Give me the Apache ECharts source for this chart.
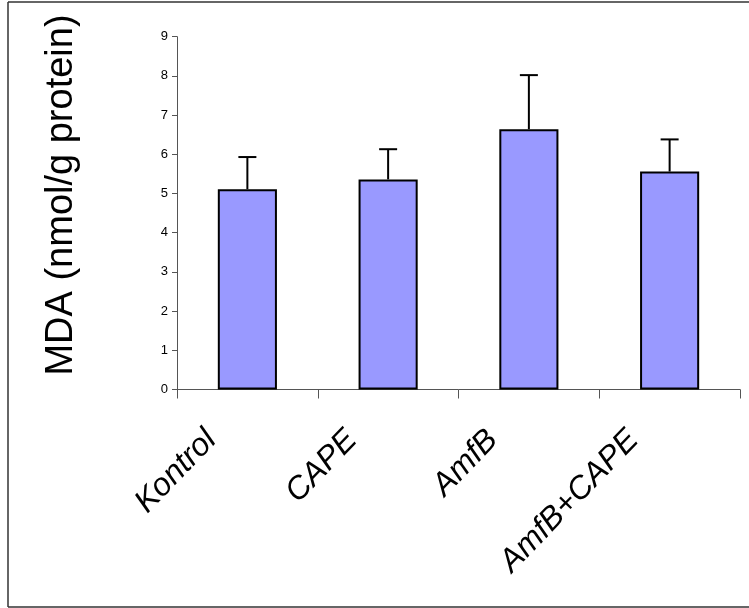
<!DOCTYPE html>
<html>
<head>
<meta charset="utf-8">
<script src="https://cdn.jsdelivr.net/npm/echarts@6/dist/echarts.min.js"></script>
<style>html,body{margin:0;padding:0;background:#fff}#c{width:749px;height:608px}</style>
</head>
<body>
<div id="c"></div>
<script>
const categories = ['Kontrol', 'CAPE', 'AmfB', 'AmfB+CAPE'];
const meanValues = [5.11, 5.36, 6.64, 5.56];
const errorValues = [0.82, 0.77, 1.38, 0.82];
const yTitle = 'MDA (nmol/g protein)';

const chart = echarts.init(document.getElementById('c'));
const errData = categories.map((c, i) => [i, meanValues[i], meanValues[i] + errorValues[i]]);

chart.setOption({
  animation: false,
  backgroundColor: '#fff',
  grid: { left: 177, right: 9, top: 36.7, bottom: 218.5, containLabel: false },
  xAxis: {
    type: 'category',
    data: categories,
    axisLine: { lineStyle: { color: '#555', width: 1 } },
    axisTick: { show: true, length: 9, lineStyle: { color: '#555' } },
    axisLabel: {
      rotate: 46, interval: 0, fontStyle: 'italic', fontSize: 32,
      fontFamily: 'Liberation Sans', color: '#000', margin: 8, padding: [0, 52, 0, 0]
    }
  },
  yAxis: {
    type: 'value', min: 0, max: 9, interval: 1,
    splitLine: { show: false },
    axisLine: { show: true, lineStyle: { color: '#555', width: 1 } },
    axisTick: { show: true, length: 5, lineStyle: { color: '#555' } },
    axisLabel: { fontSize: 13, fontFamily: 'Liberation Sans', color: '#000', margin: 9 }
  },
  graphic: [
    { type: 'text', x: 62, y: 195, rotation: Math.PI / 2,
      style: { text: yTitle, font: '38px "Liberation Sans"', fill: '#000', align: 'center', verticalAlign: 'middle' } },
    { type: 'line', shape: { x1: 8, y1: 2, x2: 749, y2: 2 }, style: { stroke: '#333', lineWidth: 1.5 } },
    { type: 'line', shape: { x1: 8, y1: 2, x2: 8, y2: 607 }, style: { stroke: '#333', lineWidth: 1.5 } },
    { type: 'line', shape: { x1: 8, y1: 607, x2: 749, y2: 607 }, style: { stroke: '#333', lineWidth: 1.5 } }
  ],
  series: [
    {
      type: 'bar', data: meanValues, barWidth: '42%',
      itemStyle: { color: '#9999FF', borderColor: '#000', borderWidth: 2 }
    },
    {
      type: 'custom', data: errData, z: 1,
      renderItem: function (params, api) {
        const x = api.value(0);
        const base = api.coord([x, api.value(1)]);
        const top = api.coord([x, api.value(2)]);
        const hw = 9;
        return {
          type: 'group',
          children: [
            { type: 'line', shape: { x1: base[0], y1: base[1], x2: top[0], y2: top[1] }, style: { stroke: '#000', lineWidth: 2 } },
            { type: 'line', shape: { x1: top[0] - hw, y1: top[1], x2: top[0] + hw, y2: top[1] }, style: { stroke: '#000', lineWidth: 2 } }
          ]
        };
      }
    }
  ]
});
</script>
</body>
</html>
